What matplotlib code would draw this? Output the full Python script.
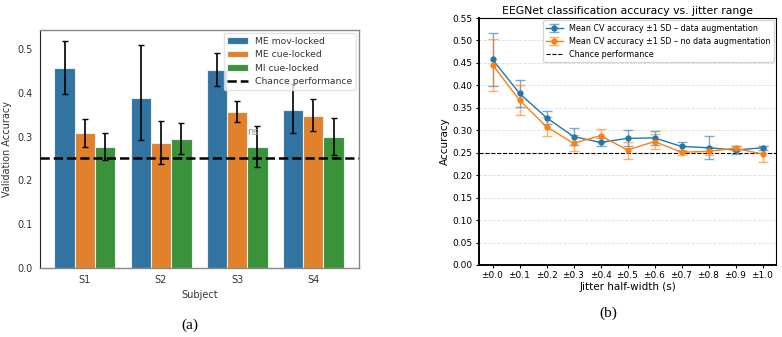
import matplotlib.pyplot as plt
import numpy as np

# ---- panel (a): validation accuracy per subject ----
subjects = ['S1', 'S2', 'S3', 'S4']
conditions = ['ME mov-locked', 'ME cue-locked', 'MI cue-locked']
acc = {
    'ME mov-locked': [0.456, 0.388, 0.452, 0.360],
    'ME cue-locked': [0.307, 0.285, 0.355, 0.347],
    'MI cue-locked': [0.277, 0.295, 0.275, 0.300],
}
ci_low = {
    'ME mov-locked': [0.397, 0.292, 0.416, 0.308],
    'ME cue-locked': [0.276, 0.238, 0.333, 0.313],
    'MI cue-locked': [0.247, 0.261, 0.230, 0.257],
}
ci_high = {
    'ME mov-locked': [0.517, 0.508, 0.491, 0.419],
    'ME cue-locked': [0.341, 0.335, 0.380, 0.385],
    'MI cue-locked': [0.307, 0.331, 0.324, 0.343],
}
bar_colors = ['#3274a1', '#e1812c', '#3a923a']
chance = 0.25

# ---- panel (b): accuracy vs. jitter ----
jitter = ['±0.0', '±0.1', '±0.2', '±0.3', '±0.4', '±0.5',
          '±0.6', '±0.7', '±0.8', '±0.9', '±1.0']
aug_mean = [0.458, 0.382, 0.328, 0.286, 0.273, 0.282, 0.283, 0.264, 0.261, 0.256, 0.261]
aug_sd = [0.059, 0.030, 0.015, 0.018, 0.009, 0.018, 0.015, 0.011, 0.026, 0.009, 0.005]
noaug_mean = [0.446, 0.367, 0.308, 0.271, 0.288, 0.256, 0.275, 0.251, 0.253, 0.260, 0.247]
noaug_sd = [0.058, 0.033, 0.021, 0.018, 0.014, 0.019, 0.016, 0.006, 0.009, 0.006, 0.018]

fig = plt.figure(figsize=(7.82, 3.37), dpi=100)

# panel (a)
ax = fig.add_axes([40 / 782, 1 - 268 / 337, 319 / 782, 238 / 337])
width = 0.8 / 3
x = np.arange(len(subjects))
for i, cond in enumerate(conditions):
    pos = x + (i - 1) * width
    vals = np.array(acc[cond])
    lo = vals - np.array(ci_low[cond])
    hi = np.array(ci_high[cond]) - vals
    ax.bar(pos, vals, width, color=bar_colors[i], edgecolor='#e8f0f0',
           linewidth=0.8, label=cond, zorder=2)
    ax.errorbar(pos, vals, yerr=[lo, hi], fmt='none', ecolor='black',
                elinewidth=1.2, capsize=2, capthick=1, zorder=3)
ax.axhline(chance, color='black', linestyle='--', linewidth=1.8,
           label='Chance performance', zorder=4)
ax.text(x[2] + width * 0.75, 0.300, 'ns', color='#999999', fontsize=7,
        ha='center', va='bottom', zorder=5)
ax.set_xlim(-0.59, 3.6)
ax.set_ylim(0, 0.543)
ax.set_xticks(x)
ax.set_xticklabels(subjects)
ax.set_yticks([0.0, 0.1, 0.2, 0.3, 0.4, 0.5])
ax.tick_params(length=0, labelsize=7, colors='#333333', pad=5)
ax.set_xlabel('Subject', fontsize=7, color='#333333', labelpad=4)
ax.set_ylabel('Validation Accuracy', fontsize=7, color='#333333', labelpad=4)
for side in ['top', 'right', 'bottom']:
    ax.spines[side].set_color('#888888')
    ax.spines[side].set_linewidth(1.0)
ax.spines['left'].set_color('#222222')
handles, labels = ax.get_legend_handles_labels()
handles = handles[1:] + handles[:1]
labels = labels[1:] + labels[:1]
leg = ax.legend(handles, labels, loc='upper right', fontsize=6.7, frameon=True,
                handlelength=2.2, borderaxespad=0.3, labelcolor='#333333')
leg.get_frame().set_edgecolor('#dddddd')

# panel (b)
ax2 = fig.add_axes([479 / 782, 1 - 265 / 337, 297 / 782, 247 / 337])
xb = np.arange(len(jitter))
ax2.errorbar(xb, aug_mean, yerr=aug_sd, color='#1f77b4', marker='o',
             markersize=3.5, linewidth=1.0, capsize=3.5, elinewidth=1.0,
             label='Mean CV accuracy ±1 SD – data augmentation', zorder=3)
ax2.errorbar(xb, noaug_mean, yerr=noaug_sd, color='#ff7f0e', marker='o',
             markersize=3.5, linewidth=1.0, capsize=3.5, elinewidth=1.0,
             label='Mean CV accuracy ±1 SD – no data augmentation', zorder=3)
for c in ax2.containers:
    for art in c[2]:
        art.set_alpha(0.6)
    for art in c[1]:
        art.set_alpha(0.6)
ax2.axhline(chance, color='black', linestyle='--', linewidth=0.8,
            label='Chance performance', zorder=2)
ax2.set_xlim(-0.5, 10.5)
ax2.set_ylim(0, 0.55)
ax2.set_yticks(np.arange(0, 0.551, 0.05))
ax2.set_yticklabels(['%.2f' % v for v in np.arange(0, 0.551, 0.05)])
ax2.set_xticks(xb)
ax2.set_xticklabels(jitter)
ax2.yaxis.grid(True, linestyle='--', color='#dddddd', linewidth=0.6)
ax2.set_axisbelow(True)
ax2.tick_params(labelsize=6.5, length=2.5, pad=2)
ax2.set_xlabel('Jitter half-width (s)', fontsize=7.5, labelpad=1)
ax2.set_ylabel('Accuracy', fontsize=7.5, labelpad=2)
ax2.set_title('EEGNet classification accuracy vs. jitter range', fontsize=7.8, pad=3)
for side in ['left', 'bottom']:
    ax2.spines[side].set_linewidth(1.4)
handles2, labels2 = ax2.get_legend_handles_labels()
handles2 = handles2[1:] + handles2[:1]
labels2 = labels2[1:] + labels2[:1]
leg2 = ax2.legend(handles2, labels2, loc='upper right', fontsize=5.8, frameon=True,
                  borderaxespad=0.3, handlelength=2.0)
leg2.get_frame().set_edgecolor('#cccccc')

fig.text(190 / 782, 1 - 325 / 337, '(a)', fontsize=11, family='Liberation Serif',
         ha='center', va='center')
fig.text(608 / 782, 1 - 313 / 337, '(b)', fontsize=11, family='Liberation Serif',
         ha='center', va='center')

fig.savefig('out.png', dpi=100)
